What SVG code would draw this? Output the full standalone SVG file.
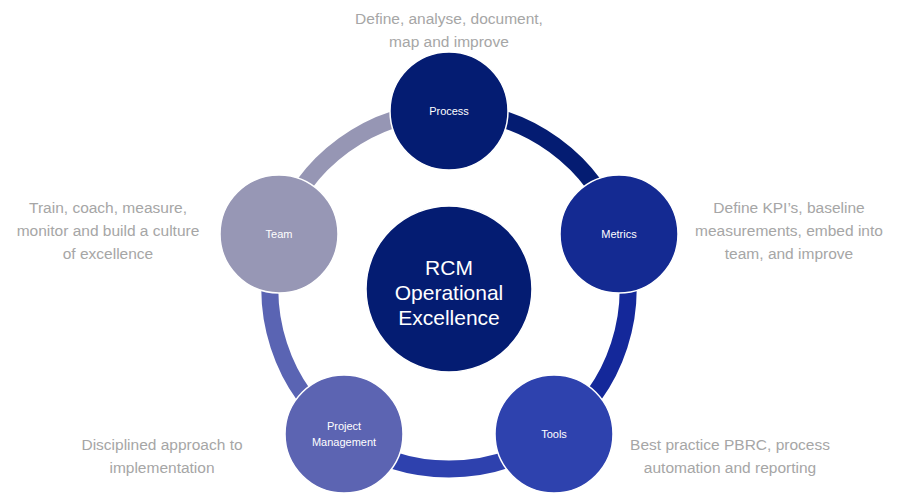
<svg xmlns="http://www.w3.org/2000/svg" width="913" height="501" viewBox="0 0 913 501">
<style>
.seg{fill:none;stroke-width:17}
.node{stroke:#fff;stroke-width:1.5}
.nl{font-family:"Liberation Sans",Arial,sans-serif;font-size:11px;fill:#fff;text-anchor:middle}
.ct{font-family:"Liberation Sans",Arial,sans-serif;font-size:21px;fill:#fff;text-anchor:middle}
.d{font-family:"Liberation Sans",Arial,sans-serif;font-size:15.5px;fill:#A6A6A6;text-anchor:middle}
</style>
<rect width="913" height="501" fill="#fff"/>
<g id="connectors">
<path class="seg" stroke="#041C72" d="M449,111 A179,179 0 0 1 619.2,234.7"/>
<path class="seg" stroke="#14289A" d="M619.2,234.7 A179,179 0 0 1 554.2,434.8"/>
<path class="seg" stroke="#2E41AE" d="M554.2,434.8 A179,179 0 0 1 343.8,434.8"/>
<path class="seg" stroke="#5A64B3" d="M343.8,434.8 A179,179 0 0 1 278.8,234.7"/>
<path class="seg" stroke="#9696B4" d="M278.8,234.7 A179,179 0 0 1 449,111"/>
</g>
<g id="center"><circle class="node" cx="449" cy="289" r="83" fill="#041C72"/>
<text class="ct" x="449" y="275">RCM</text><text class="ct" x="449" y="300">Operational</text><text class="ct" x="449" y="325">Excellence</text></g>
<g id="process"><circle class="node" cx="449" cy="111" r="59" fill="#041C72"/><text class="nl" x="449" y="115">Process</text>
<text class="d" x="449" y="24">Define, analyse, document,</text><text class="d" x="449" y="47">map and improve</text></g>
<g id="metrics"><circle class="node" cx="619" cy="234" r="59" fill="#142A92"/><text class="nl" x="619" y="238">Metrics</text>
<text class="d" x="789" y="213">Define KPI’s, baseline</text><text class="d" x="789" y="236">measurements, embed into</text><text class="d" x="789" y="259">team, and improve</text></g>
<g id="tools"><circle class="node" cx="554" cy="434" r="59" fill="#2E42AE"/><text class="nl" x="554" y="438">Tools</text>
<text class="d" x="730" y="450">Best practice PBRC, process</text><text class="d" x="730" y="473">automation and reporting</text></g>
<g id="pm"><circle class="node" cx="344" cy="434" r="59" fill="#5C64B2"/><text class="nl" x="344" y="430">Project</text><text class="nl" x="344" y="446">Management</text>
<text class="d" x="162" y="450">Disciplined approach to</text><text class="d" x="162" y="473">implementation</text></g>
<g id="team"><circle class="node" cx="279" cy="234" r="59" fill="#9797B5"/><text class="nl" x="279" y="238">Team</text>
<text class="d" x="108" y="213">Train, coach, measure,</text><text class="d" x="108" y="236">monitor and build a culture</text><text class="d" x="108" y="259">of excellence</text></g>
</svg>
